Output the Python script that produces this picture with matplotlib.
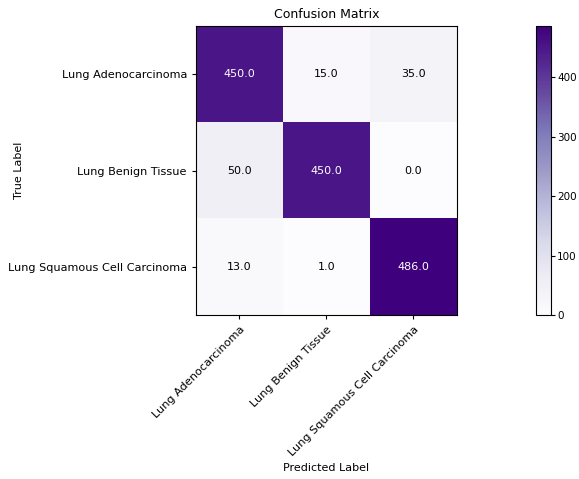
import numpy as np
import matplotlib
matplotlib.use("Agg")
import matplotlib.pyplot as plt

classes = ["Lung Adenocarcinoma", "Lung Benign Tissue", "Lung Squamous Cell Carcinoma"]
cm = np.array([
    [450.0, 15.0, 35.0],
    [50.0, 450.0, 0.0],
    [13.0, 1.0, 486.0],
])

fig = plt.figure(figsize=(5.79, 4.79), dpi=100)
ax = fig.add_axes([0.3385, 0.3424, 0.4505, 0.6033])
cax = fig.add_axes([0.9257, 0.3424, 0.026, 0.6033])

im = ax.imshow(cm, cmap="Purples", aspect="auto", vmin=0, vmax=cm.max())
fig.colorbar(im, cax=cax)

ax.set_xticks(np.arange(len(classes)))
ax.set_yticks(np.arange(len(classes)))
ax.set_xticklabels(classes, rotation=45, ha="right", rotation_mode="anchor")
ax.set_yticklabels(classes)
ax.set_title("Confusion Matrix", fontsize=9)
ax.set_xlabel("Predicted Label", fontsize=8)
ax.set_ylabel("True Label", fontsize=8)
ax.yaxis.set_label_coords(-0.66, 0.5)
ax.tick_params(labelsize=8.1, length=3)
cax.tick_params(labelsize=7.5, length=3, pad=1.5)

thresh = cm.max() / 2.0
for i in range(cm.shape[0]):
    for j in range(cm.shape[1]):
        ax.text(j, i, f"{cm[i, j]:.1f}", ha="center", va="center", fontsize=8,
                color="white" if cm[i, j] > thresh else "black")

fig.savefig("out.png", dpi=100)
